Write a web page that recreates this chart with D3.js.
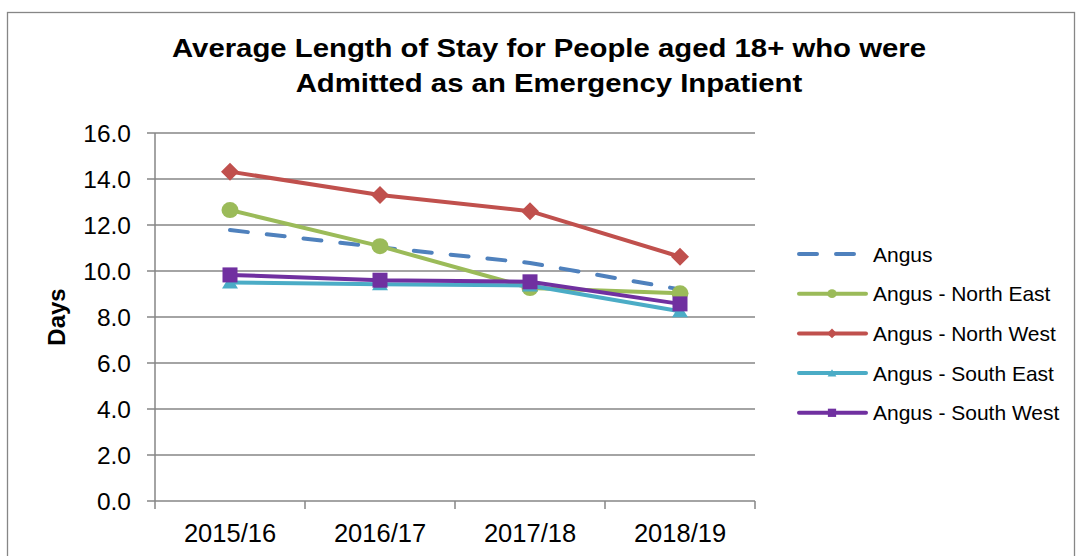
<!DOCTYPE html>
<html>
<head>
<meta charset="utf-8">
<script src="https://cdn.jsdelivr.net/npm/d3@7"></script>
<style>
  body { margin: 0; background: #fff; }
  text { font-family: "Liberation Sans", Arial, sans-serif; fill: #000; }
</style>
</head>
<body>
<div id="chart"></div>
<script>
const years = ["2015/16", "2016/17", "2017/18", "2018/19"];
const seriesNames = ["Angus", "Angus - North East", "Angus - North West", "Angus - South East", "Angus - South West"];
const angus = [11.78, 11.03, 10.35, 9.2];
const northEast = [12.65, 11.08, 9.26, 9.03];
const northWest = [14.32, 13.3, 12.6, 10.62];
const southEast = [9.5, 9.42, 9.37, 8.25];
const southWest = [9.83, 9.6, 9.53, 8.57];
const yTicks = [0, 2, 4, 6, 8, 10, 12, 14, 16];

const width = 1078;
const height = 556;
const margin = { top: 133, left: 155, bottom: 55, right: 323 };
const iwidth = width - margin.left - margin.right;
const iheight = height - margin.top - margin.bottom;

const colors = ["#4F81BD", "#9BBB59", "#C0504D", "#4BACC6", "#7030A0"];
const shapes = ["none", "circle", "diamond", "triangle", "square"];
const series = [angus, northEast, northWest, southEast, southWest].map((v, i) => ({
  name: seriesNames[i], values: v, color: colors[i], shape: shapes[i]
}));

const svg = d3.select("#chart").append("svg")
  .attr("width", width).attr("height", height);

// outer chart frame
svg.append("rect")
  .attr("x", 7.5).attr("y", 12.5)
  .attr("width", 1067).attr("height", 600)
  .attr("fill", "none").attr("stroke", "#868686").attr("stroke-width", 1.3);

function label(parent, x, y, str, size, anchor, bold, sx) {
  return parent.append("text")
    .attr("transform", `translate(${x},${y}) scale(${sx || 1},1)`)
    .attr("text-anchor", anchor)
    .style("font-size", size + "px")
    .style("font-weight", bold ? "bold" : "normal")
    .text(str);
}

// title is drawn a little wider than the font
label(svg, 549, 57, "Average Length of Stay for People aged 18+ who were", 25.5, "middle", true, 1.15);
label(svg, 549, 92, "Admitted as an Emergency Inpatient", 25.5, "middle", true, 1.15);

svg.append("text")
  .attr("transform", "translate(65,317) rotate(-90)")
  .attr("text-anchor", "middle")
  .style("font-size", "24px").style("font-weight", "bold")
  .text("Days");

const g = svg.append("g").attr("transform", `translate(${margin.left},${margin.top})`);

const x = d3.scaleBand().domain(years).range([0, iwidth]);
const y = d3.scaleLinear().domain([0, 16]).range([iheight, 0]);

// gridlines
g.append("g").selectAll("line").data(yTicks).enter().append("line")
  .attr("x1", 0).attr("x2", iwidth)
  .attr("y1", d => y(d)).attr("y2", d => y(d))
  .attr("stroke", "#868686").attr("stroke-width", 1.5);

// y axis
g.append("line").attr("x1", 0).attr("x2", 0).attr("y1", 0).attr("y2", iheight)
  .attr("stroke", "#868686").attr("stroke-width", 1.5);
g.append("g").selectAll("line").data(yTicks).enter().append("line")
  .attr("x1", -8).attr("x2", 0)
  .attr("y1", d => y(d)).attr("y2", d => y(d))
  .attr("stroke", "#868686").attr("stroke-width", 1.5);
yTicks.forEach(t => {
  label(g, -24, y(t) + 9, d3.format(".1f")(t), 24.5, "end", false);
});

// x axis ticks at band boundaries
const bounds = years.map(d => x(d)).concat([iwidth]);
g.append("g").selectAll("line").data(bounds).enter().append("line")
  .attr("x1", d => d).attr("x2", d => d)
  .attr("y1", iheight).attr("y2", iheight + 8)
  .attr("stroke", "#868686").attr("stroke-width", 1.5);
years.forEach(yr => {
  label(g, x(yr) + x.bandwidth() / 2, iheight + 41, yr, 25.5, "middle", false);
});

const cx = d => x(d) + x.bandwidth() / 2;
const line = d3.line().x((d, i) => cx(years[i])).y(d => y(d));

function drawMarker(sel, shape, color, px, py, scale) {
  const k = scale || 1;
  if (shape === "circle") {
    sel.append("ellipse").attr("cx", px).attr("cy", py)
      .attr("rx", 8.5 * k).attr("ry", 8 * k).attr("fill", color);
  } else if (shape === "diamond") {
    sel.append("path")
      .attr("d", `M${px},${py - 9 * k}L${px + 9 * k},${py}L${px},${py + 9 * k}L${px - 9 * k},${py}Z`)
      .attr("fill", color);
  } else if (shape === "triangle") {
    sel.append("path")
      .attr("d", `M${px},${py - 7 * k}L${px + 8 * k},${py + 6 * k}L${px - 8 * k},${py + 6 * k}Z`)
      .attr("fill", color);
  } else if (shape === "square") {
    sel.append("rect").attr("x", px - 7.5 * k).attr("y", py - 7.5 * k)
      .attr("width", 15 * k).attr("height", 15 * k).attr("fill", color);
  }
}

// series
series.forEach(s => {
  const sg = g.append("g");
  sg.append("path").datum(s.values)
    .attr("d", line)
    .attr("fill", "none")
    .attr("stroke", s.color)
    .attr("stroke-width", 4)
    .attr("stroke-linecap", "round")
    .attr("stroke-linejoin", "round")
    .attr("stroke-dasharray", s.shape === "none" ? "18,19" : null);
  s.values.forEach((v, i) => drawMarker(sg, s.shape, s.color, cx(years[i]), y(v)));
});

// legend
const lg = svg.append("g");
series.forEach((s, i) => {
  const ly = 254 + i * 39.7;
  lg.append("line")
    .attr("x1", 799).attr("x2", 866).attr("y1", ly).attr("y2", ly)
    .attr("stroke", s.color).attr("stroke-width", 4)
    .attr("stroke-linecap", "round")
    .attr("stroke-dasharray", s.shape === "none" ? "18,19" : null);
  drawMarker(lg, s.shape, s.color, 832, ly, 0.55);
  label(lg, 873, ly + 7.5, s.name, 21, "start", false);
});
</script>
</body>
</html>
